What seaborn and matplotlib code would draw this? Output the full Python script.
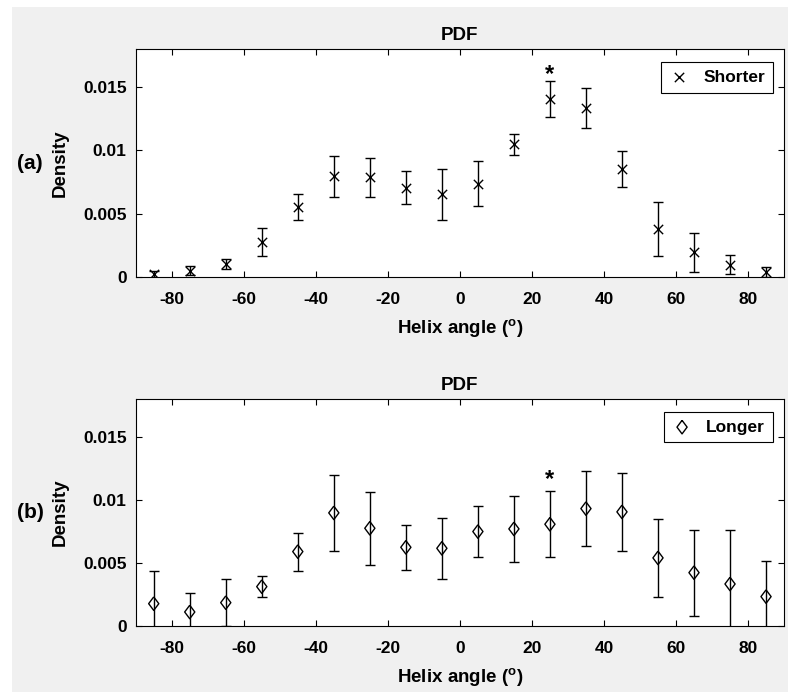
import numpy as np
import pandas as pd
import seaborn as sns
import matplotlib.pyplot as plt
from matplotlib.patches import Rectangle

# helix angle bin centres (deg)
angles = [-85, -75, -65, -55, -45, -35, -25, -15, -5, 5, 15, 25, 35, 45, 55, 65, 75, 85]

# (a) shorter
shorter_mean = [0.0002, 0.0005, 0.00103, 0.00275, 0.00553, 0.00794, 0.00786, 0.00706, 0.00653,
                0.00738, 0.01048, 0.01402, 0.01336, 0.00852, 0.00381, 0.00196, 0.00098, 0.0004]
shorter_err = [0.0003, 0.00036, 0.0004, 0.0011, 0.00105, 0.00164, 0.00153, 0.00128, 0.002,
               0.00177, 0.00082, 0.00142, 0.0016, 0.00143, 0.00212, 0.00154, 0.00074, 0.00037]

# (b) longer
longer_mean = [0.00177, 0.00111, 0.00185, 0.00312, 0.0059, 0.00897, 0.00775, 0.00624, 0.00616,
               0.00749, 0.0077, 0.00807, 0.00931, 0.00905, 0.0054, 0.00423, 0.00333, 0.00233]
longer_err = [0.0026, 0.0015, 0.00185, 0.00083, 0.0015, 0.003, 0.0029, 0.0018, 0.0024,
              0.002, 0.0026, 0.0026, 0.003, 0.0031, 0.0031, 0.0034, 0.0043, 0.0028]

x_ticks = [-80, -60, -40, -20, 0, 20, 40, 60, 80]
y_ticks = [0, 0.005, 0.01, 0.015]
y_ticklabels = ['0', '0.005', '0.01', '0.015']

sig_angle = 25   # significant bin, marked with *

sns.set_style('ticks')
plt.rcParams['font.family'] = ['Liberation Sans', 'DejaVu Sans']
plt.rcParams['font.weight'] = 'bold'
plt.rcParams['axes.labelweight'] = 'bold'
plt.rcParams['axes.titleweight'] = 'bold'
plt.rcParams['text.color'] = 'k'
plt.rcParams['axes.labelcolor'] = 'k'
plt.rcParams['xtick.color'] = 'k'
plt.rcParams['ytick.color'] = 'k'
plt.rcParams['axes.unicode_minus'] = False
plt.rcParams['mathtext.fontset'] = 'custom'
plt.rcParams['mathtext.rm'] = 'Liberation Sans:bold'
plt.rcParams['mathtext.bf'] = 'Liberation Sans:bold'

fig = plt.figure(figsize=(7.96, 6.92), dpi=100, facecolor='white')
fig.add_artist(Rectangle((12 / 796, 0), 776 / 796, 685 / 692, transform=fig.transFigure,
                         facecolor='#f0f0f0', edgecolor='none', zorder=-10))

ax_a = fig.add_axes([0.1705, 0.5997, 0.8145, 0.3295])
ax_b = fig.add_axes([0.1705, 0.0954, 0.8145, 0.3280])

diamond = [(0, 1), (0.75, 0), (0, -1), (-0.75, 0), (0, 1)]

panels = [
    (ax_a, shorter_mean, shorter_err, 'Shorter', '(a)', 0.0155),
    (ax_b, longer_mean, longer_err, 'Longer', '(b)', 0.0111),
]

for ax, mean, err, name, tag, star_y in panels:
    df = pd.DataFrame({'angle': angles, 'density': mean, 'err': err})
    ax.errorbar(df['angle'], df['density'], yerr=df['err'], fmt='none', ecolor='k',
                elinewidth=1, capsize=3.5, capthick=1, zorder=2)
    if name == 'Shorter':
        sns.scatterplot(data=df, x='angle', y='density', marker='x', color='k', s=45,
                        linewidth=1, label=name, ax=ax, zorder=3)
    else:
        sns.scatterplot(data=df, x='angle', y='density', marker=diamond, facecolor='none',
                        edgecolor='k', s=95, linewidth=1, label=name, ax=ax, zorder=3)

    ax.text(sig_angle, star_y, '*', ha='center', va='baseline', fontsize=17, fontweight='bold')

    ax.set_xlim(-90, 90)
    ax.set_ylim(0, 0.018)
    ax.set_xticks(x_ticks)
    ax.set_yticks(y_ticks)
    ax.set_yticklabels(y_ticklabels)
    ax.set_facecolor('white')
    for s in ax.spines.values():
        s.set_visible(True)
        s.set_color('k')
        s.set_linewidth(0.8)
    ax.tick_params(direction='in', top=True, right=True, length=4, width=0.8,
                   labelsize=12.5, colors='k')
    ax.tick_params(axis='x', pad=10.5)
    ax.tick_params(axis='y', pad=6.5)
    ax.set_title('PDF', fontsize=13.5, pad=6.5, color='k')
    ax.set_xlabel(r'Helix angle ($^{\mathbf{o}}$)', fontsize=13.5, labelpad=8)
    ax.set_ylabel('Density', fontsize=13.5, labelpad=10)
    ax.text(-0.163, 0.5, tag, transform=ax.transAxes, ha='center', va='center',
            fontsize=15, fontweight='bold')

    leg = ax.legend(loc='upper right', bbox_to_anchor=(0.983, 0.944), borderaxespad=0,
                    fancybox=False, edgecolor='k', framealpha=1, fontsize=12.5,
                    handlelength=1.2, handletextpad=0.8, borderpad=0.45)
    leg.get_frame().set_linewidth(0.8)
    for t in leg.get_texts():
        t.set_color('k')

fig.savefig('out.png', dpi=100, facecolor=fig.get_facecolor())
